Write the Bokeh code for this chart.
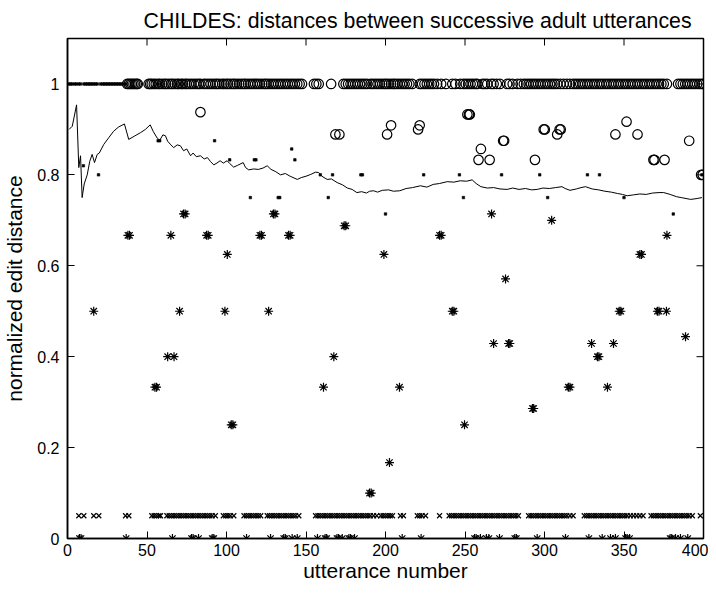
import math
from bokeh.plotting import figure
from bokeh.models import Range1d, FixedTicker
from bokeh.embed import file_html
from bokeh.resources import INLINE

FONT = "Liberation Sans"

# ---- data ----
circ_top_x = [37.5, 38.5, 39.5, 40.5, 41.5, 42.5, 43.5, 44.2,
              51, 52, 53, 54.3,
              55.5, 57, 58, 59.5, 61, 62, 63.5, 65, 66, 67.5, 69, 70, 71.5, 72.5, 74, 75, 76.5, 78, 79.5, 81, 82.5, 83.6,
              85.7, 87, 88.5, 90, 91.5, 93,
              94.1, 95.5, 97.3,
              98.5, 100, 101, 102.5, 104, 105, 106.5, 108, 109.5, 111, 112, 113.5, 115, 116.5, 118, 119.5, 121,
              122.5, 124, 125, 126.5, 128, 129.5, 131, 132.5, 134, 135.5, 137, 138.5, 140, 141.5, 143, 144.5, 146, 147.5,
              155, 156.5, 158,
              165.8,
              173.5, 175, 176.5, 178, 179.5, 181, 182.5, 184, 185.5, 187, 188.5,
              190.6, 192, 193.5, 195, 196.5, 198, 199.5, 200.6,
              202, 203.5, 205, 206, 207.5, 209, 210.5, 212, 213.5, 215, 216.8,
              221.6, 223, 224.5, 226, 227.5, 229, 230.5, 232.5,
              235, 238, 242, 244, 247, 249, 250.5, 252, 253.5, 255, 256.5, 257.7,
              261, 262.5, 264, 266.5, 268, 270, 272,
              276.5, 278, 280, 283, 285, 287, 288.5, 290, 291.5, 293, 294.5, 296, 297.5, 299, 300.5, 302, 303.5, 305,
              306.5, 308, 310, 312, 314, 316,
              318, 319.5, 321, 322.5, 324, 325.5, 327, 328.5, 330, 331.5, 333, 334.5, 336, 337.5, 339, 340.5, 342,
              343.5, 345, 346.5, 348,
              349.5, 351, 352.5, 354, 355.5, 357, 358.5, 360, 361.5, 363, 364.5, 366, 367.5, 369, 370.5, 372, 373.5,
              375, 377,
              384, 385.5, 387, 388.5, 390, 391.5, 393, 394.5, 396, 397.5, 399, 400]
circ_top_y = [1.0] * len(circ_top_x)

circ_x = [83.6, 168.5, 171, 201, 203.5, 220.5, 221.5, 251.5, 252.5, 253, 260, 258.5, 265.5, 274, 274.6,
          294, 299.5, 300.2, 308, 309.5, 310.2, 344.6, 351.6, 358.5, 368.5, 369.2, 375.5, 391, 398.5, 399.5]
circ_y = [0.938, 0.889, 0.889, 0.889, 0.909, 0.900, 0.909, 0.933, 0.933, 0.933, 0.857, 0.833, 0.833, 0.875, 0.875,
          0.833, 0.900, 0.900, 0.889, 0.900, 0.900, 0.889, 0.917, 0.889, 0.833, 0.833, 0.833, 0.875, 0.80, 0.80]

dot_x = [1, 2, 3, 4.5, 5.5, 7, 8.2, 10.3, 11.5, 12.5, 13.5, 14.5, 15.5, 16.6, 17.6, 18.7, 20.8, 22, 23, 24, 25,
         26, 27, 28, 29, 30, 31, 32, 33, 34, 35, 36.5,
         10, 19.5, 57, 58, 92.5, 102, 117.5, 118.5, 141, 143, 115, 132.5, 133.5, 164, 159, 166.7, 184.5, 185.5,
         224, 246.5, 249, 273, 297, 302, 327, 334.6, 350, 200, 381, 399]
dot_y = [1.0] * 32 + [0.82, 0.80, 0.875, 0.875, 0.875, 0.833, 0.833, 0.833, 0.857, 0.833, 0.75, 0.75, 0.75, 0.75,
                      0.80, 0.80, 0.80, 0.80, 0.80, 0.80, 0.75, 0.80, 0.80, 0.75, 0.80, 0.80, 0.75, 0.714, 0.714,
                      0.80]

ast_x = [73, 74, 129.5, 130.5, 38, 39, 65, 87.5, 88.5, 121, 122, 139, 140, 174, 175, 100.5, 199, 16.5, 70.5, 99,
         126.5, 63, 67, 167.5, 55, 56, 161, 266.7, 304.5, 234, 235, 377, 360, 361, 275.5, 242, 243, 347, 348, 371,
         372, 376.7, 388.7, 268, 277.4, 278.2, 329.6, 343.4, 333.3, 334.2, 208.8, 315, 316, 339.6, 103, 104, 190,
         191, 202.5, 249.7, 292.4, 293.2]
ast_y = [0.714, 0.714, 0.714, 0.714, 0.667, 0.667, 0.667, 0.667, 0.667, 0.667, 0.667, 0.667, 0.667, 0.688, 0.688,
         0.625, 0.625, 0.5, 0.5, 0.5, 0.5, 0.4, 0.4, 0.4, 0.333, 0.333, 0.333, 0.714, 0.70, 0.667, 0.667, 0.667,
         0.625, 0.625, 0.571, 0.5, 0.5, 0.5, 0.5, 0.5, 0.5, 0.5, 0.444, 0.429, 0.429, 0.429, 0.429, 0.429, 0.4, 0.4,
         0.333, 0.333, 0.333, 0.333, 0.25, 0.25, 0.1, 0.1, 0.167, 0.25, 0.286, 0.286]

ast0_x = [7.5, 8.5, 36.9, 66, 78, 79, 82.4, 91, 92, 112.6, 127.7, 136, 137, 141.3, 144.5, 157.2, 162, 163, 169.5,
          170.5, 172.8, 177, 178, 180.5, 210.5, 222.4, 256, 257, 259.7, 263.5, 265, 271.7, 281.3, 282.3, 295.4,
          313.2, 327.9, 336.3, 341.5, 344.6, 351, 352, 353.5, 379, 380, 382.4, 385.5, 390.1]
ast0_y = [0.0] * len(ast0_x)

x_x = [7.1, 10.3, 16.5, 19.7, 36.5, 38.6, 53, 54.5, 56, 57.5, 58.5,
       62.5, 64, 65.5, 67, 68.5, 70, 71.5, 73, 74.5, 76, 77.5, 79, 80.5, 82, 83.5, 85, 86.5, 88, 89.5, 91, 93,
       98, 99.5, 101, 102.5, 104.6,
       111, 112.5, 114, 115.5, 117, 118.5, 120, 121.5,
       125.6, 127, 128.5, 130, 131.5, 133, 134.5, 136, 137.5, 139, 140.5, 142, 143.5, 145.5,
       156, 157.5, 159, 160.5, 162, 163.5, 165, 166.5, 168, 169.5, 171, 172.5, 174, 175.5, 177, 178.5, 180, 181.5,
       183, 184.5, 186, 187.5, 189, 190.5, 192.5, 194.5,
       197, 198.5, 200, 201.5, 203, 204.4, 209.4, 211.3, 220, 221.5, 223, 225.2, 234,
       240, 241.5, 243, 244.5, 246, 247.5, 249, 250.5, 252, 253.5, 255, 256.5, 258, 259.5, 261, 262.5, 264, 265.5,
       267, 268.5, 270, 271.5, 273, 274.5, 276, 277.5, 279, 280.5, 282, 283.6,
       290, 291.5, 293, 294.5, 296, 297.5, 299, 300.5, 302, 303.5, 305, 306.5, 308, 309.5, 311, 312.5, 314, 316, 318,
       325, 326.5, 328, 329.5, 331, 332.5, 334, 335.5, 337, 338.5, 340, 341.5, 343, 344.5, 346, 347.5, 349, 350.5,
       352, 354, 356, 358, 360, 362,
       367, 368.5, 370, 371.5, 373, 374.5, 376, 377.5, 379, 380.5, 382, 383.5, 385, 386.5, 388, 389.5, 391, 393,
       398]
x_y = [0.05] * len(x_x)

line_x = [1, 3, 5.7, 7.1, 8.2, 9.2, 10.5, 12.4, 14, 15.5, 17, 18.7, 20, 22.8, 26, 29, 32, 35.8, 38.5, 42, 46, 49,
          52, 54, 56.4, 58, 60, 61.6, 63, 65, 66.8, 69, 71, 73, 75, 77.4, 79, 81, 83.6, 86, 88, 90, 92, 94, 96, 98,
          100.4, 102, 104.5, 107, 110.5, 112, 114, 117, 120, 123, 125.6, 128, 131, 134, 137, 140, 144.5, 147, 150,
          153, 156, 158, 160, 163.3, 166, 169.6, 173, 176, 179, 182, 185, 188, 190, 192.6, 195, 198, 202, 205, 209,
          213, 217, 222, 226, 230, 234, 238.8, 243, 247, 251, 254.5, 257, 260, 264, 268, 272, 276.5, 280, 284, 288,
          292, 295.4, 299, 303, 307, 311, 313, 316, 320, 323, 325.8, 330, 334, 338, 342, 346, 349, 352, 356, 360,
          364, 368, 372, 375, 379, 383, 386, 389, 392, 396, 399]
line_y = [0.90, 0.907, 0.954, 0.816, 0.842, 0.75, 0.78, 0.80, 0.83, 0.845, 0.827, 0.845, 0.848, 0.867, 0.882,
          0.896, 0.905, 0.912, 0.878, 0.885, 0.893, 0.90, 0.91, 0.895, 0.881, 0.876, 0.888, 0.886, 0.874, 0.866,
          0.86, 0.866, 0.864, 0.853, 0.857, 0.842, 0.848, 0.84, 0.842, 0.835, 0.838, 0.829, 0.822, 0.826, 0.831,
          0.826, 0.831, 0.825, 0.817, 0.821, 0.827, 0.816, 0.811, 0.813, 0.812, 0.815, 0.82, 0.812, 0.807, 0.80,
          0.803, 0.797, 0.79, 0.794, 0.797, 0.801, 0.806, 0.805, 0.797, 0.79, 0.791, 0.783, 0.778, 0.771, 0.768,
          0.761, 0.763, 0.760, 0.764, 0.765, 0.762, 0.766, 0.767, 0.764, 0.765, 0.770, 0.772, 0.776, 0.773, 0.779,
          0.781, 0.785, 0.784, 0.787, 0.786, 0.789, 0.781, 0.774, 0.771, 0.772, 0.769, 0.768, 0.771, 0.768, 0.770,
          0.767, 0.768, 0.771, 0.770, 0.772, 0.774, 0.770, 0.766, 0.769, 0.772, 0.774, 0.769, 0.767, 0.764, 0.762,
          0.759, 0.757, 0.754, 0.756, 0.758, 0.757, 0.760, 0.761, 0.761, 0.757, 0.752, 0.750, 0.748, 0.746, 0.748,
          0.75]

x_ticks = [0, 50, 100, 150, 200, 250, 300, 350, 400]
y_ticks = [0, 0.2, 0.4, 0.6, 0.8, 1.0]
X_MAX = 400
Y_MAX = 1.1

p = figure(frame_width=636, frame_height=500, output_backend="svg", toolbar_location=None,
           x_range=Range1d(0, X_MAX), y_range=Range1d(0, Y_MAX),
           min_border_left=0, min_border_right=5, min_border_top=0, min_border_bottom=0,
           title="CHILDES: distances between successive adult utterances")
p.title.text_font = FONT
p.title.text_font_size = "21.3px"
p.title.text_font_style = "normal"
p.title.align = "left"
p.title.offset = 76
p.title.standoff = 12
p.title.text_color = "black"
p.grid.visible = False
p.outline_line_color = "black"
p.outline_line_width = 1.5

for ax, lab in ((p.xaxis[0], "utterance number"), (p.yaxis[0], "normalized edit distance")):
    ax.axis_label = lab
    ax.axis_label_text_font = FONT
    ax.axis_label_text_font_size = "21px"
    ax.axis_label_text_font_style = "normal"
    ax.axis_label_text_color = "black"
    ax.major_label_text_font = FONT
    ax.major_label_text_font_size = "16px"
    ax.major_label_text_color = "black"
    ax.major_tick_in = 7
    ax.major_tick_out = 0
    ax.minor_tick_in = 0
    ax.minor_tick_out = 0
    ax.axis_line_color = "black"
    ax.axis_line_width = 1.5
    ax.major_tick_line_width = 1
    ax.major_tick_line_color = "black"
p.xaxis[0].major_label_standoff = 5
p.xaxis[0].axis_label_standoff = 0
p.yaxis[0].major_label_standoff = 8
p.yaxis[0].axis_label_standoff = 8
p.xaxis[0].ticker = FixedTicker(ticks=x_ticks)
p.yaxis[0].ticker = FixedTicker(ticks=y_ticks)
p.yaxis[0].major_label_overrides = {0: "0", 1.0: "1"}

# mirrored inward ticks on the top and right edges
p.ray(x=x_ticks, y=[Y_MAX] * len(x_ticks), length=7, length_units="screen", angle=-math.pi / 2,
      line_color="black", line_width=1)
p.ray(x=[X_MAX] * len(y_ticks), y=y_ticks, length=7, length_units="screen", angle=math.pi,
      line_color="black", line_width=1)

p.line(line_x, line_y, line_color="black", line_width=1)
p.scatter(circ_top_x, circ_top_y, marker="circle", size=9.5, fill_color=None, line_color="black", line_width=1.2)
p.scatter(circ_x, circ_y, marker="circle", size=9.5, fill_color=None, line_color="black", line_width=1.2)
p.scatter(dot_x, dot_y, marker="square", size=2.5, fill_color="black", line_color="black", line_width=0.6)
p.scatter(ast_x, ast_y, marker="asterisk", size=9, line_color="black", line_width=1.2)
p.scatter(ast0_x, ast0_y, marker="asterisk", size=9, line_color="black", line_width=1.2)
p.scatter(x_x, x_y, marker="x", size=7, line_color="black", line_width=1.2)

open("out.html", "w").write(file_html(p, INLINE))
